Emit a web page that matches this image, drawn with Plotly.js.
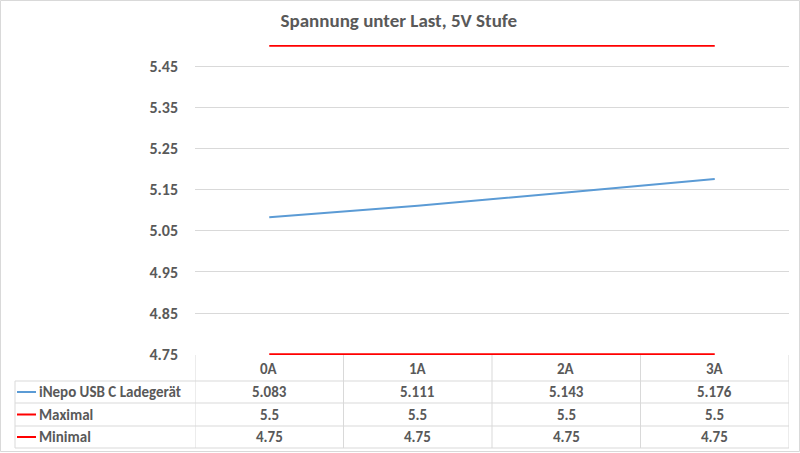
<!DOCTYPE html>
<html><head><meta charset="utf-8">
<script src="https://cdn.plot.ly/plotly-3.0.1.min.js"></script>
<style>html,body{margin:0;padding:0;background:#fff}#c{width:800px;height:453px}</style>
</head><body><div id="c"></div>
<script>
const categories = ['0A','1A','2A','3A'];
const seriesNames = ['iNepo USB C Ladegerät','Maximal','Minimal'];
const inepo = [5.083, 5.111, 5.143, 5.176];
const maximal = [5.5, 5.5, 5.5, 5.5];
const minimal = [4.75, 4.75, 4.75, 4.75];
const seriesValues = [inepo, maximal, minimal];
const seriesColors = ['#5b9bd5','#ff0000','#ff0000'];

const W = 800, H = 453, L = 195, R = 11, T = 45, B = 98;
const pw = W - L - R, ph = H - T - B;
const px = x => (x - L) / pw;
const py = y => (H - B - y) / ph;
const FONT = 'Carlito, Calibri, "Liberation Sans Narrow", "Open Sans", sans-serif';
const grid = '#d9d9d9';
const txt = '#595959';

const traces = seriesValues.map((v, i) => ({
  x: categories, y: v, type: 'scatter', mode: 'lines', name: seriesNames[i],
  line: {color: seriesColors[i], width: 2}, hoverinfo: 'none'
}));

const shapes = [];
const annotations = [];
for (let k = 0; k <= categories.length; k++) {
  shapes.push({type:'line', xref:'x', yref:'paper', x0:k-0.5, x1:k-0.5, y0:py(355), y1:py(448), line:{color:grid, width:1}});
}
const rowYs = [381, 403, 426, 448];
rowYs.forEach(y => shapes.push({type:'line', xref:'paper', yref:'paper', x0:px(15), x1:1, y0:py(y), y1:py(y), line:{color:grid, width:1}}));
shapes.push({type:'line', xref:'paper', yref:'paper', x0:px(15), x1:px(15), y0:py(381), y1:py(448), line:{color:grid, width:1}});
shapes.push({type:'rect', xref:'paper', yref:'paper', x0:px(0.5), x1:px(799.5), y0:py(0.5), y1:py(451.5), line:{color:grid, width:1}});

const tfont = {family:FONT, size:15, color:txt, weight:'bold'};
categories.forEach(c => annotations.push({xref:'x', yref:'paper', x:c, y:py(368.5), xanchor:'center', yanchor:'middle', text:c, showarrow:false, font:tfont}));
const rowCenters = [392, 414.5, 437];
seriesValues.forEach((vals, i) => {
  shapes.push({type:'line', xref:'paper', yref:'paper', x0:px(17), x1:px(36), y0:py(rowCenters[i]), y1:py(rowCenters[i]), line:{color:seriesColors[i], width:2}});
  annotations.push({xref:'paper', yref:'paper', x:px(37), y:py(rowCenters[i]), xanchor:'left', yanchor:'middle', text:seriesNames[i], showarrow:false, font:tfont});
  vals.forEach((v, j) => annotations.push({xref:'x', yref:'paper', x:categories[j], y:py(rowCenters[i]), xanchor:'center', yanchor:'middle', text:String(v), showarrow:false, font:tfont}));
});

const layout = {
  width: W, height: H,
  margin: {l:L, r:R, t:T, b:B, pad:0},
  paper_bgcolor:'#fff', plot_bgcolor:'#fff',
  showlegend:false,
  title: {text:'Spannung unter Last, 5V Stufe', x:0.4985, xanchor:'center', y:1-20/H, yanchor:'middle', font:{family:FONT, size:19, color:txt, weight:'bold'}},
  xaxis: {type:'category', range:[-0.5, 3.5], showticklabels:false, showgrid:false, zeroline:false, showline:false, ticks:''},
  yaxis: {range:[4.748, 5.502], tick0:4.75, dtick:0.1, tickformat:'.2f', showgrid:true, gridcolor:grid, gridwidth:1, zeroline:false, showline:false, ticks:'', ticklabelstandoff:16,
          tickfont:{family:FONT, size:16, color:txt, weight:'bold'}},
  shapes, annotations
};
Plotly.newPlot('c', traces, layout, {displayModeBar:false, staticPlot:true});
</script></body></html>
